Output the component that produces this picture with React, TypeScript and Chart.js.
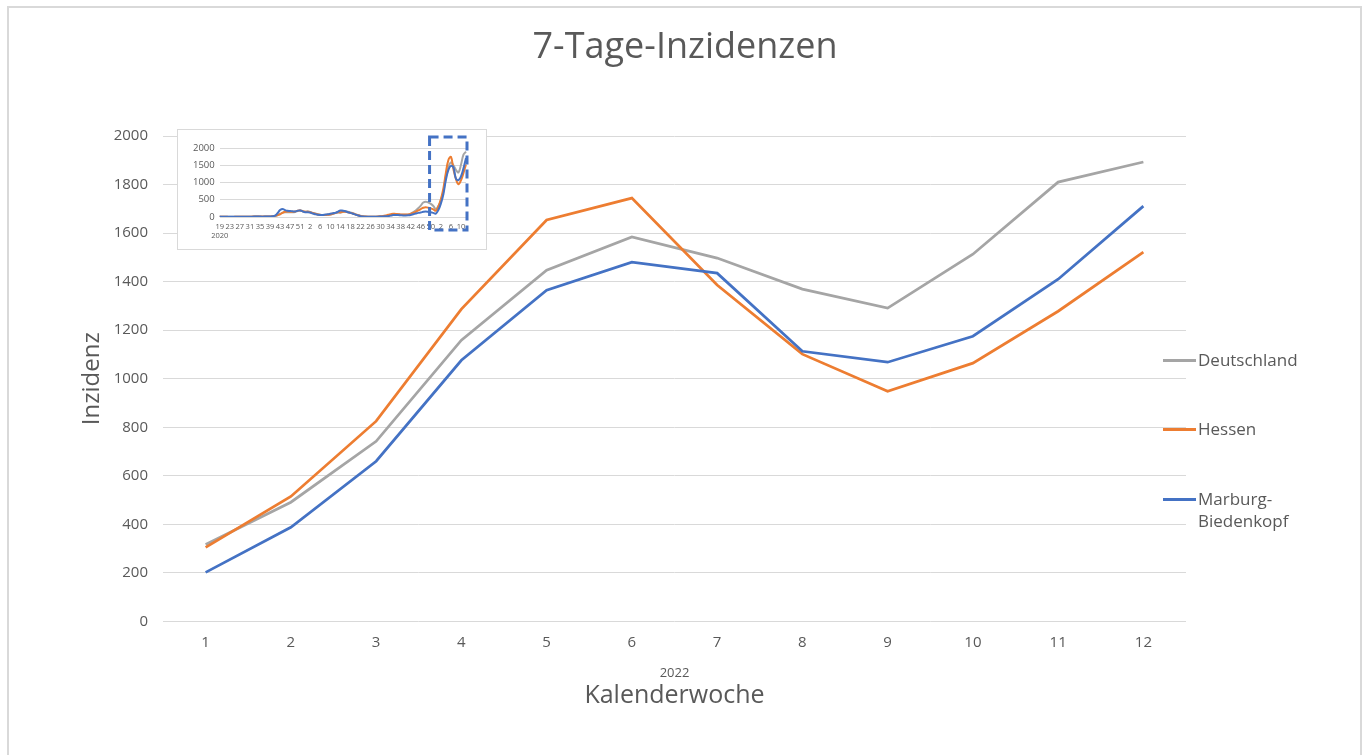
import React, { useEffect, useRef } from 'react';
import { Chart, registerables } from 'chart.js';

Chart.register(...registerables);

const FONT = '"Open Sans", "Noto Sans", sans-serif';
const TEXT = '#595959';
const GRID = '#d9d9d9';
const C_DE = '#a5a5a5';
const C_HE = '#ed7d31';
const C_MB = '#4472c4';

// Main chart: calendar weeks 2022
const weeks2022 = ['1', '2', '3', '4', '5', '6', '7', '8', '9', '10', '11', '12'];
const deutschland = [317, 491, 742, 1159, 1447, 1584, 1497, 1369, 1291, 1513, 1810, 1893];
const hessen = [305, 515, 825, 1287, 1654, 1744, 1386, 1101, 948, 1064, 1278, 1522];
const marburg = [202, 388, 660, 1076, 1365, 1480, 1435, 1113, 1068, 1175, 1410, 1711];

// Inset: history 2020 w19 – 2021 w52
const weeks2020 = Array.from({ length: 35 }, (_, i) => String(19 + i));
const weeks2021 = Array.from({ length: 52 }, (_, i) => String(1 + i));
const deHist2020 = [8, 6, 5, 4, 4, 4, 6, 5, 4, 4, 5, 6, 7, 9, 11, 12, 10, 10, 11, 13, 14, 17, 27, 48, 85, 125, 140, 140, 140, 138, 147, 170, 195, 170, 150];
const deHist2021 = [165, 145, 120, 100, 80, 65, 58, 60, 65, 72, 90, 115, 130, 125, 150, 165, 155, 130, 110, 80, 55, 35, 22, 13, 8, 6, 6, 8, 12, 16, 20, 28, 40, 60, 78, 83, 78, 68, 62, 64, 68, 95, 140, 190, 255, 330, 420, 445, 420, 380, 320, 230];
const heHist2020 = [6, 5, 4, 4, 3, 3, 4, 4, 4, 5, 6, 8, 9, 11, 14, 16, 14, 12, 13, 15, 16, 20, 32, 55, 80, 120, 150, 160, 155, 150, 160, 180, 190, 165, 150];
const heHist2021 = [150, 140, 115, 95, 75, 62, 55, 58, 63, 75, 95, 120, 140, 140, 150, 150, 140, 120, 100, 75, 50, 30, 18, 12, 8, 6, 7, 10, 15, 22, 30, 45, 65, 80, 95, 90, 80, 75, 70, 70, 75, 90, 120, 150, 190, 230, 270, 280, 270, 250, 220, 180];
const mbHist2020 = [12, 8, 6, 5, 4, 4, 5, 5, 4, 5, 6, 7, 8, 10, 12, 14, 12, 10, 12, 14, 16, 20, 40, 110, 200, 235, 200, 180, 175, 165, 160, 180, 190, 160, 140];
const mbHist2021 = [140, 130, 100, 80, 65, 60, 60, 70, 80, 95, 110, 120, 150, 190, 180, 165, 140, 120, 95, 70, 45, 25, 15, 10, 8, 6, 6, 8, 10, 14, 18, 22, 25, 40, 55, 60, 55, 50, 45, 45, 50, 60, 80, 100, 120, 130, 150, 160, 150, 140, 120, 100];

const insetLabels = [...weeks2020, ...weeks2021, ...weeks2022];
const insetDE = [...deHist2020, ...deHist2021, ...deutschland];
const insetHE = [...heHist2020, ...heHist2021, ...hessen];
const insetMB = [...mbHist2020, ...mbHist2021, ...marburg];
const zoomStartIndex = 83.5;

const legendItems = [
  { label: ['Deutschland'], color: C_DE, y: 360 },
  { label: ['Hessen'], color: C_HE, y: 429 },
  { label: ['Marburg-', 'Biedenkopf'], color: C_MB, y: 499 },
];

const plain = (v: any) => String(v);

const zoomBoxPlugin = {
  id: 'zoomBox',
  afterDatasetsDraw(chart: any) {
    const xs = chart.scales.x;
    const ys = chart.scales.y;
    const ctx = chart.ctx;
    const left = xs.getPixelForValue(zoomStartIndex);
    const right = chart.chartArea.right + 1;
    const top = ys.getPixelForValue(2000) - 11;
    const bottom = ys.getPixelForValue(0) + 13;
    ctx.save();
    ctx.setLineDash([9, 5]);
    ctx.lineWidth = 3;
    ctx.strokeStyle = C_MB;
    ctx.strokeRect(left, top, right - left, bottom - top);
    ctx.restore();
  },
};

export default function App() {
  const mainRef = useRef<HTMLCanvasElement>(null);
  const insetRef = useRef<HTMLCanvasElement>(null);

  useEffect(() => {
    const main = new Chart(mainRef.current!, {
      type: 'line',
      data: {
        labels: weeks2022,
        datasets: [
          { label: 'Deutschland', data: deutschland, borderColor: C_DE, backgroundColor: C_DE, borderWidth: 2.75, pointRadius: 0, tension: 0, order: 3 },
          { label: 'Hessen', data: hessen, borderColor: C_HE, backgroundColor: C_HE, borderWidth: 2.75, pointRadius: 0, tension: 0, order: 2 },
          { label: 'Marburg-Biedenkopf', data: marburg, borderColor: C_MB, backgroundColor: C_MB, borderWidth: 2.75, pointRadius: 0, tension: 0, order: 1 },
        ],
      },
      options: {
        animation: false,
        responsive: false,
        events: [],
        layout: { padding: { left: 76, right: 181, bottom: 44, top: 136 } },
        plugins: {
          legend: { display: false },
          tooltip: { enabled: false },
          title: { display: false },
        },
        scales: {
          x: {
            offset: true,
            grid: { display: false, drawTicks: false },
            border: { display: false },
            ticks: { color: TEXT, font: { family: FONT, size: 15 }, padding: 12, maxRotation: 0 },
            title: { display: true, text: '2022', color: TEXT, font: { family: FONT, size: 13 }, padding: { top: 2, bottom: 0 } },
          },
          x2: {
            type: 'category',
            labels: [''],
            position: 'bottom',
            grid: { display: false, drawTicks: false },
            border: { display: false },
            ticks: { display: false },
            title: { display: true, text: 'Kalenderwoche', color: TEXT, font: { family: FONT, size: 25 }, padding: { top: 0, bottom: 0 } },
          },
          y: {
            min: 0,
            max: 2000,
            afterFit: (scale: any) => {
              scale.width = 87;
            },
            grid: { color: GRID, drawTicks: false, lineWidth: 1 },
            border: { display: false },
            ticks: { stepSize: 200, color: TEXT, font: { family: FONT, size: 15 }, padding: 15, callback: plain },
            title: { display: true, text: 'Inzidenz', color: TEXT, font: { family: FONT, size: 24 }, padding: { top: 2, bottom: 2 } },
          },
        },
      } as any,
    });

    const inset = new Chart(insetRef.current!, {
      type: 'line',
      data: {
        labels: insetLabels,
        datasets: [
          { label: 'Deutschland', data: insetDE, borderColor: C_DE, borderWidth: 2, pointRadius: 0, tension: 0.4, order: 3 },
          { label: 'Hessen', data: insetHE, borderColor: C_HE, borderWidth: 2, pointRadius: 0, tension: 0.4, order: 2 },
          { label: 'Marburg-Biedenkopf', data: insetMB, borderColor: C_MB, borderWidth: 2, pointRadius: 0, tension: 0.4, order: 1 },
        ],
      },
      options: {
        animation: false,
        responsive: false,
        events: [],
        layout: { padding: { left: 10, right: 20, top: 18, bottom: 4 } },
        plugins: { legend: { display: false }, tooltip: { enabled: false }, title: { display: false } },
        scales: {
          x: {
            offset: false,
            grid: { display: false, drawTicks: false },
            border: { display: false },
            ticks: {
              autoSkip: false,
              maxRotation: 0,
              minRotation: 0,
              padding: 5,
              color: TEXT,
              font: { family: FONT, size: 7.5 },
              callback: (_v: any, i: number) => (i === 0 ? [insetLabels[0], '2020'] : i % 4 === 0 ? insetLabels[i] : ''),
            },
          },
          y: {
            min: 0,
            max: 2000,
            grid: { color: GRID, drawTicks: false },
            border: { display: false },
            ticks: { stepSize: 500, color: TEXT, font: { family: FONT, size: 9.5 }, padding: 5, callback: plain },
          },
        },
      } as any,
      plugins: [zoomBoxPlugin],
    });

    return () => {
      main.destroy();
      inset.destroy();
    };
  }, []);

  return (
    <div style={{ position: 'absolute', left: 0, top: 0, width: 1367, height: 755, overflow: 'hidden', background: '#fff' }}>
      <canvas ref={mainRef} width={1367} height={755} style={{ position: 'absolute', left: 0, top: 0 }} />
      <div
        style={{
          position: 'absolute',
          left: 0,
          width: 1370,
          top: 45 - 25,
          height: 50,
          lineHeight: '50px',
          textAlign: 'center',
          fontFamily: FONT,
          fontSize: 36,
          color: TEXT,
        }}
      >
        7-Tage-Inzidenzen
      </div>
      <div
        style={{
          position: 'absolute',
          left: 177,
          top: 129,
          width: 310,
          height: 121,
          boxSizing: 'border-box',
          border: `1px solid ${GRID}`,
          background: '#fff',
        }}
      >
        <canvas ref={insetRef} width={308} height={119} style={{ position: 'absolute', left: 0, top: 0 }} />
      </div>
      {legendItems.map((it) => (
        <div key={it.label.join('')} style={{ position: 'absolute', left: 1163, top: it.y - 11, fontFamily: FONT, fontSize: 17, lineHeight: '22px', color: TEXT }}>
          <div style={{ position: 'absolute', left: 0, top: 10, width: 33, height: 3, background: it.color }} />
          <div style={{ marginLeft: 35, whiteSpace: 'nowrap' }}>
            {it.label.map((l) => (
              <div key={l}>{l}</div>
            ))}
          </div>
        </div>
      ))}
      <div
        style={{
          position: 'absolute',
          left: 7,
          top: 6,
          width: 1355,
          height: 800,
          boxSizing: 'border-box',
          border: `2px solid ${GRID}`,
          pointerEvents: 'none',
        }}
      />
    </div>
  );
}
